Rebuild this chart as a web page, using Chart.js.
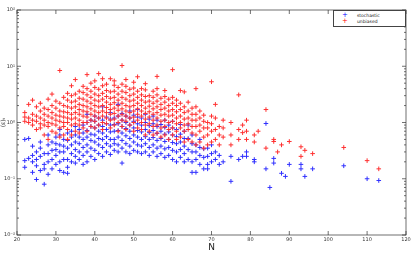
<!DOCTYPE html>
<html lang="en">
<head>
<meta charset="utf-8"/>
<script src="https://cdn.jsdelivr.net/npm/chart.js@4.4.1/dist/chart.umd.min.js"></script>
<style>
  body { margin: 0; background: #fff; }
  #wrap { position: relative; width: 415px; height: 254px; }
  #legend {
    position: absolute; left: 333px; top: 10px; width: 71px; height: 15px;
    border: 1px solid #444; background: #fff;
    font: 4.5px "DejaVu Sans", sans-serif; color: #222;
  }
  #legend div { position: absolute; left: 0; height: 7px; line-height: 7px; white-space: nowrap; }
  #legend span.m { position: absolute; left: 7px; width: 8px; text-align: center; font-size: 7px; }
  #legend span.t { position: absolute; left: 23px; }
</style>
</head>
<body>
<div id="wrap">
  <canvas id="c" width="415" height="254"></canvas>
  <div id="legend">
    <div style="top:0.5px"><span class="m" style="color:#0000ff">+</span><span class="t">stochastic</span></div>
    <div style="top:7px"><span class="m" style="color:#ff0000">+</span><span class="t">unbiased</span></div>
  </div>
</div>
<script>
// columns of points: [N, [values...]]
const stochastic = [
  [22, [0.16, 0.21, 0.5]],
  [23, [0.23, 0.52]],
  [24, [0.13, 0.2, 0.26, 0.38]],
  [25, [0.097, 0.17, 0.22, 0.3]],
  [26, [0.14, 0.25, 0.35, 0.45]],
  [27, [0.08, 0.15, 0.18, 0.28]],
  [28, [0.12, 0.2, 0.28, 0.4, 0.6]],
  [29, [0.15, 0.22, 0.32, 0.45]],
  [30, [0.18, 0.26, 0.33, 0.42, 0.55]],
  [31, [0.14, 0.2, 0.3, 0.4, 0.6, 0.75]],
  [32, [0.13, 0.22, 0.3, 0.38, 0.5]],
  [33, [0.125, 0.16, 0.22, 0.35, 0.48, 0.65]],
  [34, [0.2, 0.28, 0.4, 0.55, 0.7]],
  [35, [0.19, 0.25, 0.33, 0.45, 0.6, 0.85]],
  [36, [0.22, 0.3, 0.42, 0.55, 0.75]],
  [37, [0.18, 0.26, 0.36, 0.5, 0.65, 0.9]],
  [38, [0.2, 0.3, 0.4, 0.55, 0.72, 1.0, 1.4]],
  [39, [0.25, 0.35, 0.48, 0.62, 0.85, 1.1]],
  [40, [0.22, 0.32, 0.45, 0.6, 0.8, 1.05, 1.3]],
  [41, [0.28, 0.4, 0.52, 0.7, 0.9, 1.2]],
  [42, [0.25, 0.36, 0.5, 0.65, 0.85, 1.1, 1.9]],
  [43, [0.3, 0.42, 0.56, 0.75, 0.95, 1.25]],
  [44, [0.27, 0.38, 0.5, 0.68, 0.9, 1.15, 1.5]],
  [45, [0.32, 0.42, 0.5, 0.7, 0.92, 1.2]],
  [46, [0.3, 0.4, 0.55, 0.72, 0.95, 1.3, 2.1]],
  [47, [0.19, 0.35, 0.48, 0.65, 0.85, 1.1, 1.45]],
  [48, [0.3, 0.42, 0.58, 0.78, 1.0, 1.3]],
  [49, [0.28, 0.38, 0.52, 0.7, 0.9, 1.2, 1.6]],
  [50, [0.32, 0.45, 0.6, 0.8, 1.05, 1.35]],
  [51, [0.3, 0.4, 0.55, 0.72, 0.95, 1.25, 1.7]],
  [52, [0.28, 0.38, 0.5, 0.68, 0.9, 1.2]],
  [53, [0.3, 0.42, 0.56, 0.75, 1.0, 1.4]],
  [54, [0.26, 0.36, 0.5, 0.66, 0.88, 1.15]],
  [55, [0.3, 0.4, 0.54, 0.72, 0.95, 1.3]],
  [56, [0.25, 0.35, 0.48, 0.64, 0.85, 1.1]],
  [57, [0.28, 0.38, 0.52, 0.7, 0.92]],
  [58, [0.24, 0.34, 0.46, 0.62, 0.82, 1.1]],
  [59, [0.26, 0.36, 0.5, 0.68, 0.9]],
  [60, [0.22, 0.32, 0.44, 0.6, 0.8, 1.05]],
  [61, [0.2, 0.3, 0.42, 0.56, 0.75]],
  [62, [0.24, 0.33, 0.45, 0.62, 0.92]],
  [63, [0.2, 0.28, 0.38, 0.52, 0.7]],
  [64, [0.22, 0.33, 0.52, 0.9]],
  [65, [0.13, 0.2, 0.3, 0.42, 0.6]],
  [66, [0.13, 0.22, 0.3, 0.4]],
  [67, [0.18, 0.26, 0.36, 0.5]],
  [68, [0.15, 0.24, 0.34]],
  [69, [0.15, 0.18, 0.25, 0.35]],
  [70, [0.2, 0.28, 0.4]],
  [71, [0.22, 0.3]],
  [72, [0.18, 0.26]],
  [73, [0.2]],
  [75, [0.09, 0.25]],
  [77, [0.22]],
  [78, [0.25]],
  [79, [0.25, 0.3]],
  [81, [0.2, 0.22]],
  [84, [0.15, 0.96]],
  [85, [0.07]],
  [86, [0.19, 0.23]],
  [88, [0.125]],
  [89, [0.11]],
  [90, [0.18]],
  [93, [0.15, 0.18]],
  [94, [0.11]],
  [96, [0.15]],
  [104, [0.17]],
  [110, [0.1]],
  [113, [0.093]]
];

const unbiased = [
  [22, [1.05, 1.25, 1.5]],
  [23, [1.0, 1.2, 2.1]],
  [24, [0.9, 1.1, 1.4, 2.5]],
  [25, [0.75, 1.05, 1.3, 1.9]],
  [26, [0.8, 0.95, 1.2, 1.6, 2.2]],
  [27, [0.6, 0.9, 1.1, 1.4, 1.8]],
  [28, [0.5, 0.85, 1.0, 1.3, 1.7, 2.6]],
  [29, [0.7, 0.95, 1.2, 1.5, 2.0, 3.2]],
  [30, [0.65, 0.9, 1.1, 1.35, 1.8, 2.4]],
  [31, [0.55, 0.8, 1.05, 1.3, 1.6, 2.2, 8.4]],
  [32, [0.6, 0.85, 1.0, 1.25, 1.55, 2.0, 2.8]],
  [33, [0.5, 0.75, 1.0, 1.2, 1.5, 1.9, 2.5, 3.3]],
  [34, [0.6, 0.9, 1.15, 1.4, 1.8, 2.3, 3.0, 4.5]],
  [35, [0.7, 0.95, 1.2, 1.5, 1.9, 2.4, 3.2, 5.8]],
  [36, [0.65, 0.9, 1.1, 1.4, 1.7, 2.1, 2.7, 3.6]],
  [37, [0.8, 1.0, 1.3, 1.6, 2.0, 2.6, 3.4, 4.4]],
  [38, [0.7, 1.0, 1.25, 1.55, 1.9, 2.4, 3.1, 4.0, 7.1]],
  [39, [0.85, 1.1, 1.4, 1.75, 2.2, 2.8, 3.6, 5.0]],
  [40, [0.8, 1.05, 1.3, 1.6, 2.0, 2.5, 3.2, 4.2, 5.5]],
  [41, [0.9, 1.2, 1.5, 1.9, 2.4, 3.0, 3.9, 7.4]],
  [42, [0.75, 1.0, 1.3, 1.6, 2.0, 2.6, 3.3, 4.5, 6.0]],
  [43, [0.95, 1.2, 1.5, 1.85, 2.3, 2.9, 3.7, 4.8]],
  [44, [0.8, 1.1, 1.4, 1.7, 2.1, 2.7, 3.5, 6.0]],
  [45, [0.9, 1.15, 1.45, 1.8, 2.25, 2.8, 3.6, 4.6, 5.5]],
  [46, [0.7, 1.0, 1.3, 1.65, 2.0, 2.5, 3.2, 4.2]],
  [47, [0.85, 1.1, 1.4, 1.75, 2.2, 2.8, 3.6, 4.8, 10.3]],
  [48, [0.75, 1.05, 1.3, 1.6, 2.0, 2.6, 3.4, 4.4, 5.8]],
  [49, [0.9, 1.2, 1.5, 1.9, 2.4, 3.0, 3.9]],
  [50, [0.7, 1.0, 1.25, 1.6, 2.0, 2.5, 3.2, 4.1, 5.2]],
  [51, [0.8, 1.1, 1.4, 1.75, 2.2, 2.8, 3.6, 6.5]],
  [52, [0.75, 1.0, 1.3, 1.6, 2.0, 2.5, 3.1, 4.0]],
  [53, [0.6, 0.9, 1.15, 1.45, 1.8, 2.3, 2.9, 3.8, 4.9]],
  [54, [0.7, 0.95, 1.25, 1.55, 1.95, 2.4, 3.0]],
  [55, [0.6, 0.85, 1.1, 1.4, 1.75, 2.2, 2.8, 3.6]],
  [56, [0.65, 0.9, 1.2, 1.5, 1.9, 2.4, 3.1, 4.0, 6.6]],
  [57, [0.55, 0.8, 1.05, 1.35, 1.7, 2.1, 2.7]],
  [58, [0.6, 0.85, 1.1, 1.4, 1.8, 2.3, 2.9, 3.7]],
  [59, [0.5, 0.75, 1.0, 1.3, 1.6, 2.0, 2.6]],
  [60, [0.6, 0.8, 1.05, 1.35, 1.7, 2.2, 2.8, 8.7]],
  [61, [0.5, 0.7, 0.95, 1.2, 1.55, 2.0, 2.5]],
  [62, [0.55, 0.8, 1.0, 1.3, 1.7, 2.2, 3.7]],
  [63, [0.45, 0.7, 0.9, 1.15, 1.5, 1.9, 3.5]],
  [64, [0.5, 0.75, 0.95, 1.2, 1.6, 2.3]],
  [65, [0.45, 0.65, 0.85, 1.1, 1.4, 1.8]],
  [66, [0.4, 0.6, 0.85, 1.1, 1.4, 1.9, 4.0]],
  [67, [0.45, 0.7, 0.9, 1.2, 1.6]],
  [68, [0.35, 0.55, 0.8, 1.05, 1.35]],
  [69, [0.4, 0.6, 0.8, 1.0]],
  [70, [0.45, 0.7, 0.95, 1.3, 5.3]],
  [71, [0.5, 0.75, 1.2, 2.1]],
  [72, [0.4, 0.6, 0.85]],
  [73, [0.55, 0.8, 1.1]],
  [75, [0.4, 0.6, 1.0]],
  [77, [0.5, 0.75, 3.1]],
  [78, [0.66, 0.9]],
  [79, [0.5, 0.7, 1.1]],
  [81, [0.45, 0.6]],
  [82, [0.7]],
  [84, [0.35, 1.7]],
  [86, [0.46, 0.5]],
  [87, [0.3]],
  [88, [0.4]],
  [90, [0.46]],
  [93, [0.25, 0.37]],
  [94, [0.32]],
  [96, [0.28]],
  [104, [0.36]],
  [110, [0.21]],
  [113, [0.15]]
];

const xTicks = [20, 30, 40, 50, 60, 70, 80, 90, 100, 110, 120];
const yDecades = [0.01, 0.1, 1, 10, 100];
const supers = {'-2': '10⁻²', '-1': '10⁻¹', '0': '10⁰', '1': '10¹', '2': '10²'};

function toPoints(cols) {
  var pts = [];
  cols.forEach(function(c) {
    c[1].forEach(function(v) { pts.push({x: c[0], y: v}); });
  });
  return pts;
}

// matlab style box with inward ticks
const boxTicks = {
  id: 'boxTicks',
  afterDraw(chart) {
    const ctx = chart.ctx, a = chart.chartArea;
    const xs = chart.scales.x, ys = chart.scales.y;
    ctx.save();
    ctx.strokeStyle = '#333';
    ctx.lineWidth = 0.7;
    ctx.strokeRect(a.left, a.top, a.right - a.left, a.bottom - a.top);
    ctx.beginPath();
    xTicks.forEach(function(t) {
      const px = xs.getPixelForValue(t);
      ctx.moveTo(px, a.bottom); ctx.lineTo(px, a.bottom - 4);
      ctx.moveTo(px, a.top); ctx.lineTo(px, a.top + 4);
    });
    yDecades.forEach(function(d, i) {
      const py = ys.getPixelForValue(d);
      ctx.moveTo(a.left, py); ctx.lineTo(a.left + 4, py);
      ctx.moveTo(a.right, py); ctx.lineTo(a.right - 4, py);
      if (i < yDecades.length - 1) {
        for (var k = 2; k <= 9; k++) {
          const pm = ys.getPixelForValue(d * k);
          ctx.moveTo(a.left, pm); ctx.lineTo(a.left + 2, pm);
          ctx.moveTo(a.right, pm); ctx.lineTo(a.right - 2, pm);
        }
      }
    });
    ctx.stroke();
    ctx.restore();
  }
};

new Chart(document.getElementById('c'), {
  type: 'scatter',
  data: {
    datasets: [
      {
        label: 'stochastic',
        data: toPoints(stochastic),
        pointStyle: 'cross',
        pointRadius: 2.3,
        borderColor: '#3030ff',
        pointBorderColor: '#3030ff',
        pointBorderWidth: 1,
        order: 2
      },
      {
        label: 'unbiased',
        data: toPoints(unbiased),
        pointStyle: 'cross',
        pointRadius: 2.3,
        borderColor: '#ff3030',
        pointBorderColor: '#ff3030',
        pointBorderWidth: 1,
        order: 1
      }
    ]
  },
  options: {
    responsive: false,
    animation: false,
    devicePixelRatio: 1,
    events: [],
    layout: { padding: { top: 10, right: 9, left: 0, bottom: 0 } },
    plugins: { legend: { display: false }, tooltip: { enabled: false } },
    scales: {
      x: {
        type: 'linear',
        min: 20, max: 120,
        grid: { display: false, drawTicks: false },
        border: { display: false },
        ticks: {
          stepSize: 10, padding: 2,
          font: { family: 'DejaVu Sans', size: 5 }, color: '#333', maxRotation: 0
        },
        title: {
          display: true, text: 'N', padding: { top: 0, bottom: 1 },
          font: { family: 'DejaVu Sans', size: 9 }, color: '#222'
        },
        afterFit: function(s) { s.height = 19; }
      },
      y: {
        type: 'logarithmic',
        min: 0.01, max: 100,
        grid: { display: false, drawTicks: false },
        border: { display: false },
        ticks: {
          padding: 2,
          font: { family: 'DejaVu Sans', size: 5 }, color: '#333',
          callback: function(v) {
            const e = Math.round(Math.log10(v));
            if (Math.abs(Math.log10(v) - e) > 1e-6) return null;
            return supers[String(e)];
          }
        },
        title: {
          display: true, text: '⟨ε⟩ₜ', padding: 0,
          font: { family: 'DejaVu Sans', size: 6 }, color: '#222'
        },
        afterFit: function(s) { s.width = 17; }
      }
    }
  },
  plugins: [boxTicks]
});
</script>
</body>
</html>
